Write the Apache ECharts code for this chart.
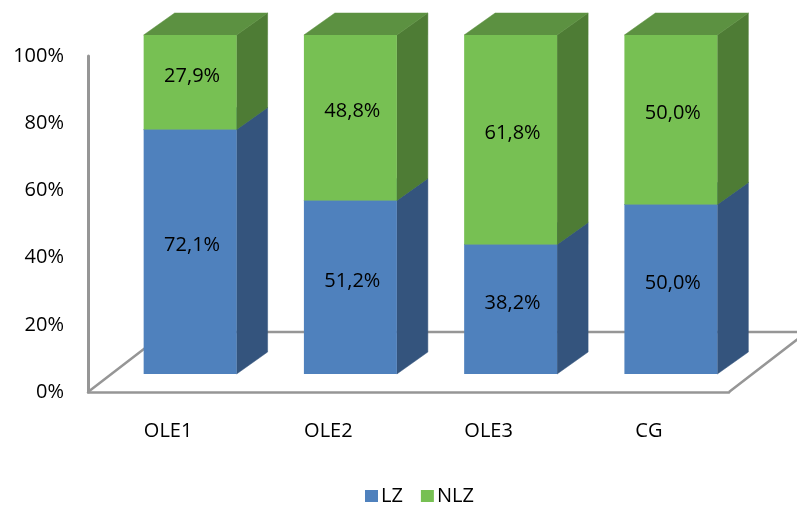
<!DOCTYPE html>
<html><head><meta charset="utf-8">
<script src="https://cdn.jsdelivr.net/npm/echarts@6/dist/echarts.min.js"></script>
<style>html,body{margin:0;padding:0;background:#fff}#chart{width:797px;height:505px}</style>
</head><body><div id="chart"></div>
<script>
// Share of LZ / NLZ per group (percent, stacks to 100)
const categories = ['OLE1', 'OLE2', 'OLE3', 'CG'];
const lzValues = [72.1, 51.2, 38.2, 50.0];
const nlzValues = [27.9, 48.8, 61.8, 50.0];
const yTicks = [0, 20, 40, 60, 80, 100];

const FONT = 'Open Sans';
const FONT_SIZE = 20;
const TEXT_COLOR = '#000';
const LINE_COLOR = '#969696';
// pseudo-3D extrusion of each box and of the floor
const DX = 31, DY = 22;
const FLOOR_DX = 78, FLOOR_DY = 60;

function fmt(v) { return v.toFixed(1).replace('.', ',') + '%'; }

function boxRenderer(front, side, top) {
  return function (params, api) {
    const i = api.value(0);
    const lo = api.value(1), hi = api.value(2), v = api.value(3);
    const pLo = api.coord([i, lo]);
    const pHi = api.coord([i, hi]);
    const w = api.size([1, 0])[0] * 0.58;
    const x0 = pLo[0] - w / 2, x1 = pLo[0] + w / 2;
    const yb = pLo[1], yt = pHi[1];
    return {
      type: 'group',
      children: [
        { type: 'polygon', shape: { points: [[x1, yb], [x1 + DX, yb - DY], [x1 + DX, yt - DY], [x1, yt]] },
          style: { fill: side, stroke: side, lineWidth: 0.5 } },
        { type: 'polygon', shape: { points: [[x0, yt], [x1, yt], [x1 + DX, yt - DY], [x0 + DX, yt - DY]] },
          style: { fill: top, stroke: top, lineWidth: 0.5 } },
        { type: 'rect', shape: { x: x0, y: yt, width: w, height: yb - yt },
          style: { fill: front } },
        { type: 'text', x: pLo[0] + 2, y: (yb + yt) / 2 - 6,
          style: { text: fmt(v), fill: TEXT_COLOR, font: FONT_SIZE + 'px "' + FONT + '"',
                   align: 'center', verticalAlign: 'middle' } }
      ]
    };
  };
}

const lzData = categories.map((c, i) => [i, 0, lzValues[i], lzValues[i]]);
const nlzData = categories.map((c, i) => [i, lzValues[i], lzValues[i] + nlzValues[i], nlzValues[i]]);

const chart = echarts.init(document.getElementById('chart'), null, { renderer: 'canvas' });
chart.setOption({
  animation: false,
  backgroundColor: '#fff',
  textStyle: { fontFamily: FONT },
  grid: [
    { left: 88, top: 56, width: 641, height: 336 },
    { left: 110, top: 35, width: 641, height: 339 }
  ],
  xAxis: [
    { type: 'category', gridIndex: 0, data: categories,
      axisLine: { show: true, lineStyle: { color: LINE_COLOR, width: 2.5 } },
      axisTick: { show: false },
      axisLabel: { margin: 29, fontSize: FONT_SIZE, color: TEXT_COLOR, fontFamily: FONT } },
    { type: 'category', gridIndex: 1, data: categories, show: false }
  ],
  yAxis: [
    { type: 'value', gridIndex: 0, min: yTicks[0], max: yTicks[yTicks.length - 1], interval: 20,
      axisLine: { show: true, lineStyle: { color: LINE_COLOR, width: 3 } },
      axisTick: { show: false },
      splitLine: { show: false },
      axisLabel: { margin: 24, fontSize: FONT_SIZE, color: TEXT_COLOR, fontFamily: FONT,
                   formatter: v => v + '%' } },
    { type: 'value', gridIndex: 1, min: 0, max: 100, show: false }
  ],
  legend: {
    left: 360, top: 481,
    icon: 'rect', itemWidth: 13, itemHeight: 12, itemGap: 18,
    textStyle: { fontSize: FONT_SIZE, color: TEXT_COLOR, fontFamily: FONT, padding: [0, 0, 0, -2] },
    data: ['LZ', 'NLZ']
  },
  series: [
    {
      type: 'custom', name: 'floor', xAxisIndex: 0, yAxisIndex: 0, z: 1, silent: true,
      data: [[0]],
      renderItem: function (params, api) {
        const cs = params.coordSys;
        const yF = cs.y + cs.height;
        return {
          type: 'polyline',
          shape: { points: [[cs.x, yF], [cs.x + FLOOR_DX, yF - FLOOR_DY],
                            [cs.x + cs.width + FLOOR_DX, yF - FLOOR_DY], [cs.x + cs.width, yF]] },
          style: { stroke: LINE_COLOR, lineWidth: 2.5, fill: 'none' }
        };
      }
    },
    {
      type: 'custom', name: 'LZ', xAxisIndex: 1, yAxisIndex: 1, z: 2,
      itemStyle: { color: '#4F81BD' },
      encode: { x: 0, y: [1, 2] },
      data: lzData,
      renderItem: boxRenderer('#4F81BD', '#34547D', '#3F6797')
    },
    {
      type: 'custom', name: 'NLZ', xAxisIndex: 1, yAxisIndex: 1, z: 3,
      itemStyle: { color: '#77C053' },
      encode: { x: 0, y: [1, 2] },
      data: nlzData,
      renderItem: boxRenderer('#77C053', '#4E7C35', '#5C9141')
    }
  ]
});
</script>
</body></html>
